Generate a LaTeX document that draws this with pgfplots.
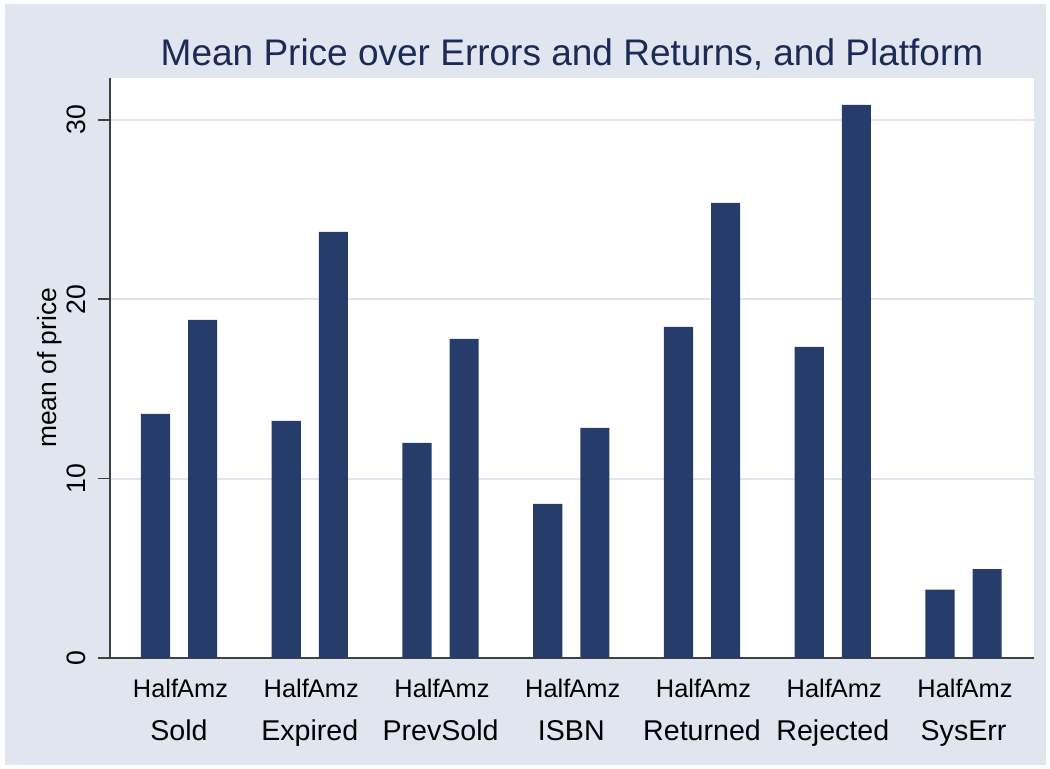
\documentclass[border=0pt]{standalone}
\usepackage{fontspec}
\setmainfont{Liberation Sans}
\usepackage{pgfplots}
\pgfplotsset{compat=1.18}
\definecolor{bgc}{RGB}{224,229,240}
\definecolor{barc}{RGB}{38,61,108}
\definecolor{titc}{RGB}{28,43,85}
\definecolor{axc}{RGB}{64,64,64}
\begin{document}
\begin{tikzpicture}
\fill[white] (0,0) rectangle (525pt,384.5pt);
\fill[bgc] (2.5pt,2pt) rectangle (523pt,382.5pt);
\begin{axis}[
    at={(55pt,55.5pt)}, anchor=south west,
    scale only axis, width=462pt, height=290pt,
    xmin=-0.528, xmax=6.539, ymin=0, ymax=32.34,
    clip=false,
    axis background/.style={fill=white},
    axis lines*=left,
    axis line style={axc, line width=0.8pt},
    tick align=outside,
    major tick length=6pt,
    ytick={0,10,20,30},
    y tick style={axc, line width=0.8pt},
    x tick style={draw=none},
    ymajorgrids,
    grid style={bgc, line width=1pt},
    /pgf/number format/assume math mode=true,
    yticklabel style={xshift=-6pt, rotate=90, anchor=base, font=\fontsize{13.3}{15}\selectfont},
    xtick={-0.18,0.18,0.82,1.18,1.82,2.18,2.82,3.18,3.82,4.18,4.82,5.18,5.82,6.18},
    xticklabels={Half,Amz,Half,Amz,Half,Amz,Half,Amz,Half,Amz,Half,Amz,Half,Amz},
    xticklabel style={anchor=base, yshift=-14pt, font=\fontsize{12.7}{14}\selectfont},
    extra x ticks={0,1,2,3,4,5,6},
    extra x tick labels={Sold,Expired,PrevSold,ISBN,Returned,Rejected,SysErr},
    extra x tick style={xticklabel style={yshift=-21.5pt, font=\fontsize{14.3}{16}\selectfont}},
    title={Mean Price over Errors and Returns, and Platform},
    title style={at={(0.5,1)}, anchor=base, yshift=0pt, color=titc,
        font=\fontsize{18.5}{20}\selectfont},
]
% Half
\addplot[ybar, bar width=0.222, bar shift=0pt, fill=barc, draw=none] coordinates {
    (-0.18,13.61) (0.82,13.22) (1.82,11.99) (2.82,8.59)
    (3.82,18.46) (4.82,17.35) (5.82,3.81)
};
% Amz
\addplot[ybar, bar width=0.222, bar shift=0pt, fill=barc, draw=none] coordinates {
    (0.18,18.85) (1.18,23.76) (2.18,17.79) (3.18,12.83)
    (4.18,25.38) (5.18,30.84) (6.18,4.96)
};
\node[rotate=90, anchor=base, font=\fontsize{13.2}{15}\selectfont]
    at ([xshift=-26.75pt]rel axis cs:0,0.5) {mean of price};
\end{axis}
\end{tikzpicture}
\end{document}
